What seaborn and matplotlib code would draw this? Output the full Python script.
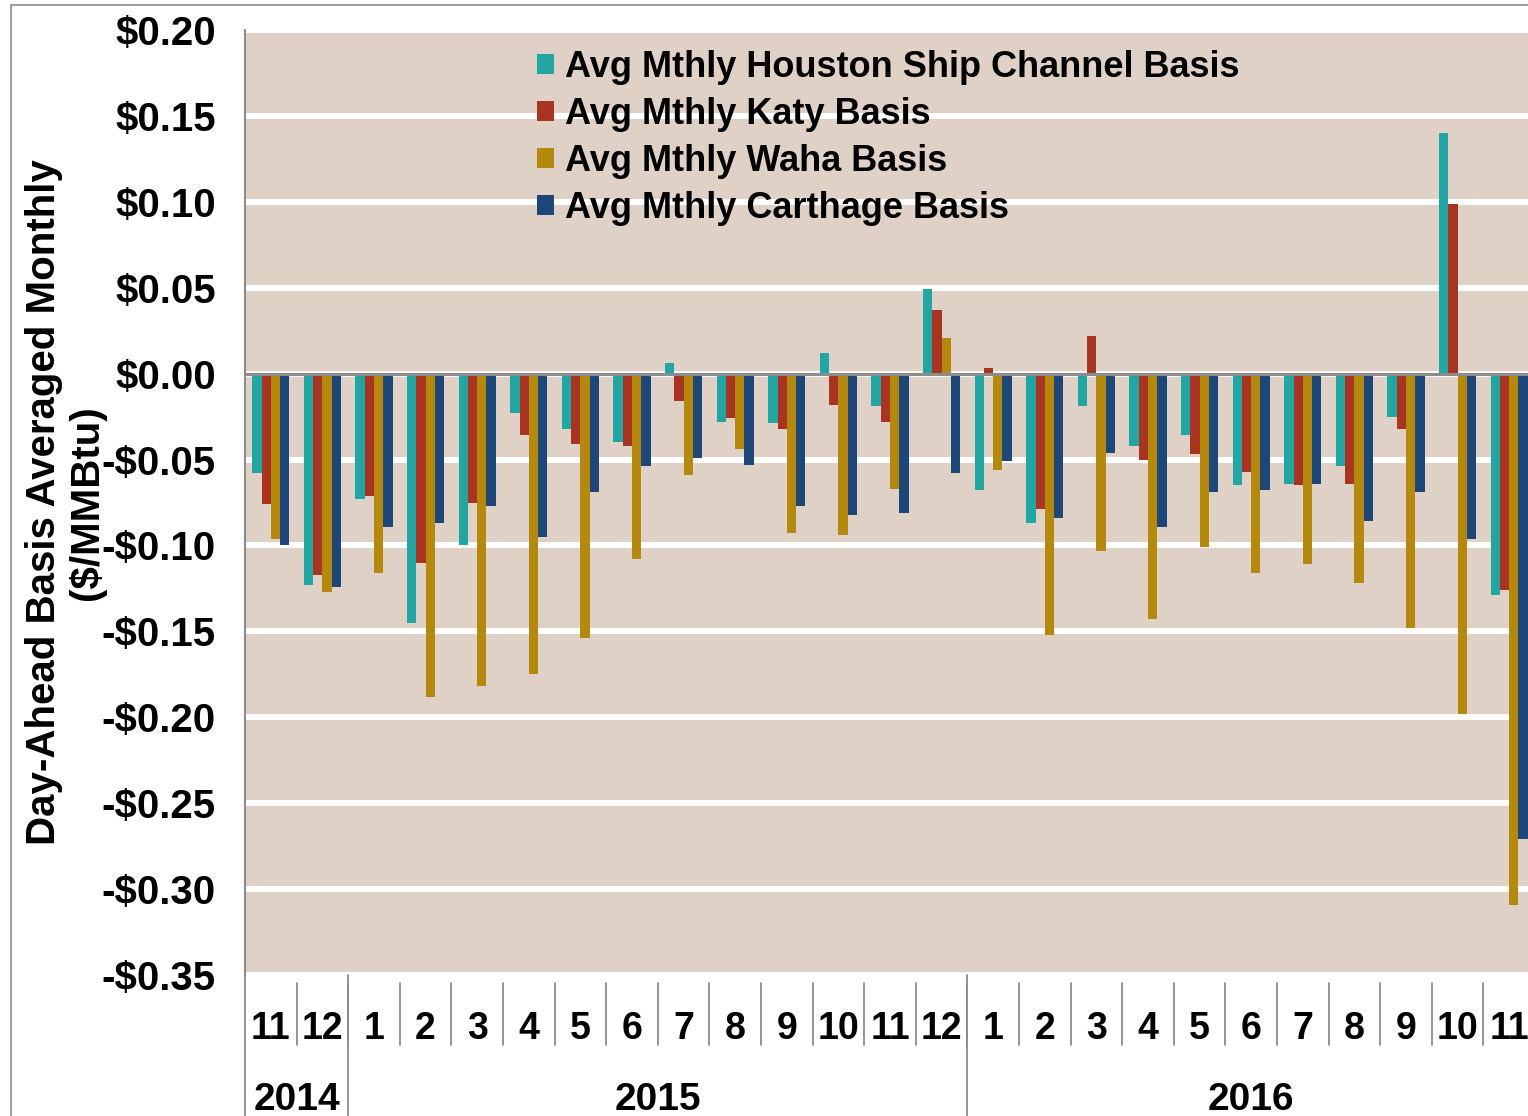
import matplotlib
matplotlib.use("Agg")
import matplotlib.pyplot as plt
import matplotlib.transforms as mtransforms
from matplotlib.patches import Rectangle
from matplotlib.ticker import FuncFormatter, FixedLocator
import seaborn as sns
import pandas as pd

# months Nov 2014 .. Nov 2016
periods = ["2014-11", "2014-12",
           "2015-01", "2015-02", "2015-03", "2015-04", "2015-05", "2015-06",
           "2015-07", "2015-08", "2015-09", "2015-10", "2015-11", "2015-12",
           "2016-01", "2016-02", "2016-03", "2016-04", "2016-05", "2016-06",
           "2016-07", "2016-08", "2016-09", "2016-10", "2016-11"]
month_labels = [p.split("-")[1].lstrip("0") for p in periods]
years = ["2014", "2015", "2016"]

houston = [-0.058, -0.123, -0.073, -0.145, -0.100, -0.023, -0.032, -0.040, 0.006, -0.028,
           -0.029, 0.012, -0.019, 0.049, -0.068, -0.087, -0.019, -0.042, -0.036, -0.065,
           -0.064, -0.054, -0.025, 0.140, -0.129]
katy = [-0.076, -0.117, -0.071, -0.110, -0.075, -0.036, -0.041, -0.042, -0.016, -0.026,
        -0.032, -0.018, -0.028, 0.037, 0.003, -0.079, 0.022, -0.050, -0.047, -0.057,
        -0.065, -0.064, -0.032, 0.099, -0.126]
waha = [-0.096, -0.127, -0.116, -0.188, -0.182, -0.175, -0.154, -0.108, -0.059, -0.044,
        -0.093, -0.094, -0.067, 0.021, -0.056, -0.152, -0.103, -0.143, -0.101, -0.116,
        -0.111, -0.122, -0.148, -0.198, -0.309]
carthage = [-0.100, -0.124, -0.089, -0.087, -0.077, -0.095, -0.069, -0.054, -0.049, -0.053,
            -0.077, -0.082, -0.081, -0.058, -0.051, -0.084, -0.046, -0.089, -0.069, -0.068,
            -0.064, -0.086, -0.069, -0.096, -0.271]

series_names = ["Avg Mthly Houston Ship Channel Basis", "Avg Mthly Katy Basis",
                "Avg Mthly Waha Basis", "Avg Mthly Carthage Basis"]
colors = ["#21A6A3", "#A93421", "#B5880E", "#1E4779"]

rows = []
for name, vals in zip(series_names, [houston, katy, waha, carthage]):
    for p, v in zip(periods, vals):
        rows.append({"period": p, "basis": v, "series": name})
df = pd.DataFrame(rows)

sns.set_style("white")
plt.rcParams["font.family"] = ["Liberation Sans", "DejaVu Sans"]
plt.rcParams["font.weight"] = "bold"
for key in ["text.color", "axes.labelcolor", "xtick.labelcolor", "ytick.labelcolor"]:
    plt.rcParams[key] = "black"
GRAY = "#8c8c8c"

fig = plt.figure(figsize=(15.28, 11.16), dpi=100)
ax = fig.add_axes([245 / 1528, 1 - 975 / 1116, 1290 / 1528, 945 / 1116])
ax.set_facecolor("#E0D1C7")

sns.barplot(data=df, x="period", y="basis", hue="series", order=periods,
            hue_order=series_names, palette=colors, width=0.72, saturation=1,
            errorbar=None, linewidth=0, ax=ax)

ax.set_ylim(-0.35, 0.20)
ax.set_xlim(-0.5, len(periods) - 0.5)
ax.set_yticks([i * 0.05 for i in range(-7, 5)])
ax.yaxis.set_major_formatter(FuncFormatter(
    lambda v, _: f"${v:.2f}" if round(v, 3) >= 0 else f"-${-v:.2f}"))
ax.set_axisbelow(True)
ax.grid(axis="y", color="white", linewidth=4.3)
ax.grid(axis="x", visible=False)

# zero axis with tick marks at month boundaries
for s in ["top", "right"]:
    ax.spines[s].set_visible(False)
ax.spines["bottom"].set_position(("data", 0))
ax.spines["bottom"].set_color(GRAY)
ax.spines["bottom"].set_linewidth(2.2)
ax.spines["left"].set_color(GRAY)
ax.spines["left"].set_linewidth(1.5)
ax.xaxis.set_major_locator(FixedLocator([k + 0.5 for k in range(len(periods) - 1)]))
ax.tick_params(axis="x", direction="out", length=7, width=1.5, color=GRAY,
               labelbottom=False)
ax.tick_params(axis="y", direction="out", length=8, width=1.5, color=GRAY,
               labelsize=29, pad=13)
for lab in ax.get_yticklabels():
    lab.set_fontweight("bold")
ax.set_xlabel("")
ax.set_ylabel("Day-Ahead Basis Averaged Monthly\n($/MMBtu)", fontsize=29,
              fontweight="bold", linespacing=1.15)
ax.yaxis.set_label_coords(-0.108, 0.5)

# category axis under the plot: months then years
trans = mtransforms.blended_transform_factory(ax.transData, ax.transAxes)
for i, m in enumerate(month_labels):
    ax.text(i, -0.057, m, transform=trans, ha="center", va="center",
            fontsize=27, fontweight="bold")
for k in range(len(periods) - 1):
    ax.plot([k + 0.5, k + 0.5], [-0.0085, -0.074], transform=trans,
            color=GRAY, linewidth=1.3, clip_on=False)
for xb in [-0.5, 1.5, 13.5]:
    ax.plot([xb, xb], [0, -0.16], transform=trans, color=GRAY,
            linewidth=1.3, clip_on=False)
year_pos = [0.5, 7.5, 19.0]
for y, xp in zip(years, year_pos):
    ax.text(xp, -0.132, y, transform=trans, ha="center", va="center",
            fontsize=28, fontweight="bold")

leg = ax.legend(loc="upper left", bbox_to_anchor=(0.2264, 0.979), frameon=False,
                fontsize=26, handlelength=0.47, handleheight=0.47, borderpad=0,
                handletextpad=0.3, labelspacing=0.33, borderaxespad=0)
for t in leg.get_texts():
    t.set_fontweight("bold")

# outer frame of the figure
fig.patches.append(Rectangle((11 / 1528, -0.05), 1.1, 1 - 5 / 1116 + 0.05,
                             transform=fig.transFigure, fill=False,
                             edgecolor="#a0a0a0", linewidth=1.5))

fig.savefig("out.png", dpi=100)
